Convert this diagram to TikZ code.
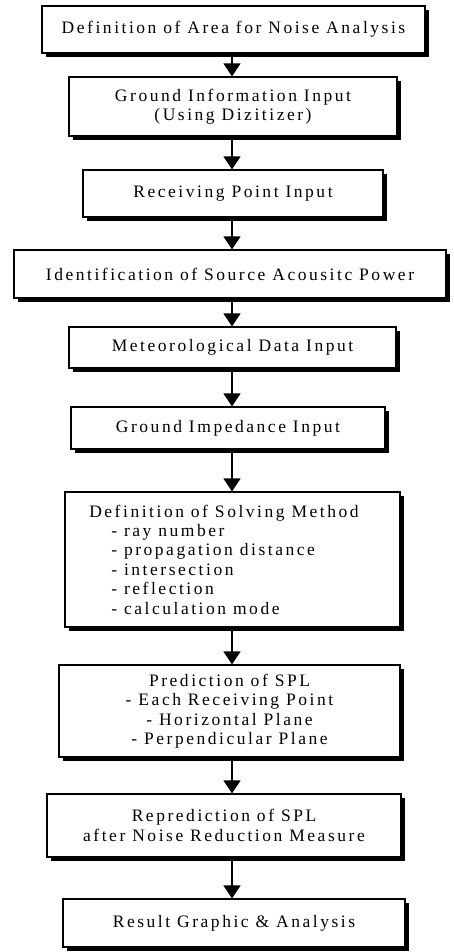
\documentclass[tikz,border=0pt]{standalone}
\usepackage{fontspec}
\setmainfont{Liberation Serif}[LetterSpace=14.5, Ligatures=CommonOff]
\usetikzlibrary{arrows.meta,shadows}

\tikzset{
  stage/.style={draw, line width=1.2pt, fill=white, inner sep=0pt,
    drop shadow={shadow xshift=4pt, shadow yshift=-4pt, fill=black, opacity=1},
    font=\fontsize{17.5}{19.4}\selectfont},
  flow/.style={-{Triangle[width=17pt,length=13pt]}, line width=1.3pt}
}

\begin{document}
\begin{tikzpicture}[x=1pt,y=-1pt]
  \useasboundingbox (0,0) rectangle (454,952);
  \coordinate (axis) at (232,0);

  \node (area)    [stage, minimum width=383pt, minimum height=47pt] at (233.5,29.5)
    {Definition of Area for Noise Analysis};
  \node (ground)  [stage, minimum width=328pt, minimum height=59pt, align=center] at (233,106.5)
    {Ground Information Input\\(Using Dizitizer)};
  \node (recv)    [stage, minimum width=300pt, minimum height=47pt] at (233,193.5)
    {Receiving Point Input};
  \node (source)  [stage, minimum width=432pt, minimum height=48pt] at (230,274)
    {Identification of Source Acousitc Power};
  \node (meteo)   [stage, minimum width=327pt, minimum height=41pt] at (232.5,347.5)
    {Meteorological Data Input};
  \node (imped)   [stage, minimum width=314pt, minimum height=42pt] at (228,428)
    {Ground Impedance Input};
  \node (solve)   [stage, minimum width=335pt, minimum height=135pt, align=left] at (232.5,559.5)
    {Definition of Solving Method\hspace*{17pt}\\
     \hspace*{22pt}- ray number\\
     \hspace*{22pt}- propagation distance\\
     \hspace*{22pt}- intersection\\
     \hspace*{22pt}- reflection\\
     \hspace*{22pt}- calculation mode};
  \node (predict) [stage, minimum width=341pt, minimum height=92pt, align=center] at (229.5,711)
    {Prediction of SPL\\- Each Receiving Point\\- Horizontal Plane\\- Perpendicular Plane};
  \node (repred)  [stage, minimum width=354pt, minimum height=63pt, align=center] at (224,825.5)
    {Reprediction of SPL\\after Noise Reduction Measure};
  \node (result)  [stage, minimum width=342pt, minimum height=48pt] at (234,923)
    {Result Graphic \& Analysis};

  \draw [flow] (area.south -| axis)    -- (ground.north -| axis);
  \draw [flow] (ground.south -| axis)  -- (recv.north -| axis);
  \draw [flow] (recv.south -| axis)    -- (source.north -| axis);
  \draw [flow] (source.south -| axis)  -- (meteo.north -| axis);
  \draw [flow] (meteo.south -| axis)   -- (imped.north -| axis);
  \draw [flow] (imped.south -| axis)   -- (solve.north -| axis);
  \draw [flow] (solve.south -| axis)   -- (predict.north -| axis);
  \draw [flow] (predict.south -| axis) -- (repred.north -| axis);
  \draw [flow] (repred.south -| axis)  -- (result.north -| axis);
\end{tikzpicture}
\end{document}
